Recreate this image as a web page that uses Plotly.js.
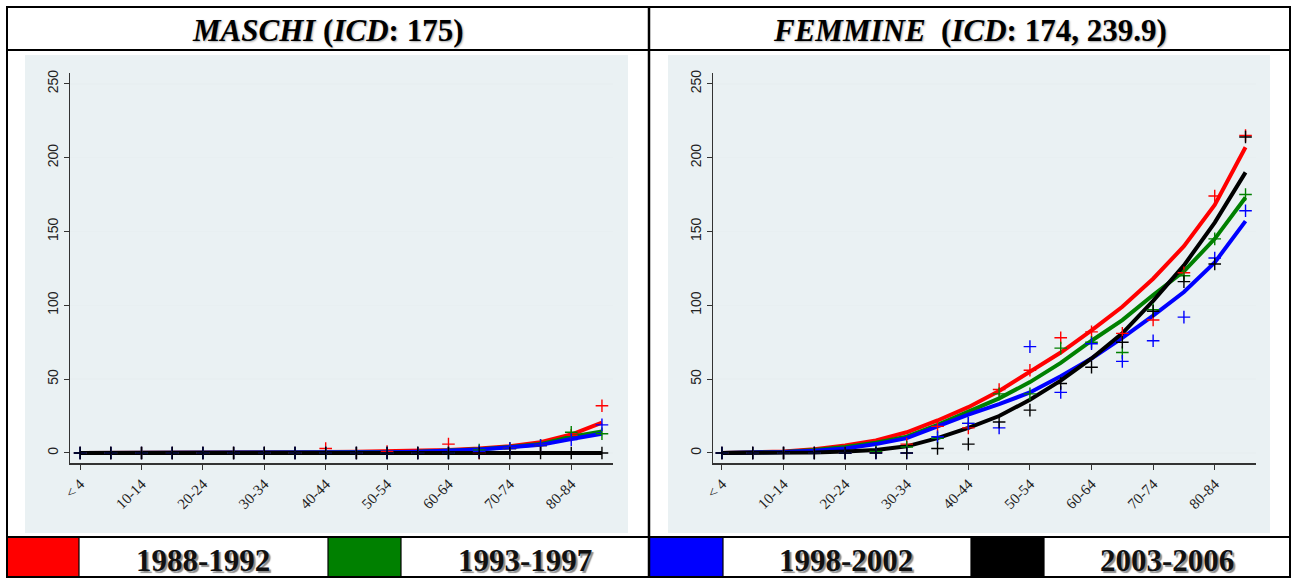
<!DOCTYPE html>
<html>
<head>
<meta charset="utf-8">
<script src="https://cdn.plot.ly/plotly-3.0.1.min.js"></script>
<style>
html,body{margin:0;padding:0;background:#fff;}
#chart{width:1294px;height:578px;}
</style>
</head>
<body>
<div id="chart"></div>
<script>
// ---- data ----
const categories = ["< 4","5-9","10-14","15-19","20-24","25-29","30-34","35-39","40-44","45-49","50-54","55-59","60-64","65-69","70-74","75-79","80-84","85+"];
const tickLabels = ["< 4","10-14","20-24","30-34","40-44","50-54","60-64","70-74","80-84"];
const periods = ["1988-1992","1993-1997","1998-2002","2003-2006"];
const yTicks = [0,50,100,150,200,250];

// MASCHI: fitted curves
const mFit1988 = [0,0,0,0,0,0,0.2,0.4,0.6,0.8,1,1.3,2,3,4.6,7.3,12.5,20.5];
const mFit1993 = [0,0,0,0,0,0,0,0.1,0.2,0.4,0.6,0.9,1.5,2.5,4,6,11,14.5];
const mFit1998 = [0,0,0,0,0,0,0,0.1,0.2,0.3,0.5,0.8,1.3,2.3,3.8,5.5,9.5,13];
const mFit2003 = [0,0,0,0,0,0,0,0,0,0,0,0,0,0,0,0,0,0];
// MASCHI: observed rates
const mObs1988 = [0,0,0,0,0,0,0,0,3,0,1,0,6,0,3,5,12,32];
const mObs1993 = [0,0,0,0,0,0,0,0,0,0,0,0,0,2,3,5,14,13];
const mObs1998 = [0,0,0,0,0,0,0,0,0,0,0,0,0,1,3,5,9,19];
const mObs2003 = [0,0,0,0,0,0,0,0,0,0,0,0,0,0,0,0,0,0];

// FEMMINE: fitted curves
const fFit1988 = [0,0.3,1,2.5,5,8.5,14,22,31,42,55,68,83,99,118,140,168,207];
const fFit1993 = [0,0.2,0.7,2,4,7,11,19,28,37,48,61,76,90,107,123,145,173];
const fFit1998 = [0,0.1,0.6,1.5,3,6,10,18,26,33,41,52,64,78,93,109,129,157];
const fFit2003 = [0,0,0.1,0.3,1,2,4.5,10,17,25,36,49,64,81,103,127,156,190];
// FEMMINE: observed rates
const fObs1988 = [0,0,0,0,0,0.5,6,18,17,43,56,78,82,81,90,122,174,215];
const fObs1993 = [0,0,0,0,0,1,4,10,20,40,40,71,75,68,97,120,145,175];
const fObs1998 = [0,0,0,0,0,0,0,11,20,17,72,41,74,62,76,92,132,164];
const fObs2003 = [0,0,0,0,0,0,0,3,6,21,29,47,58,75,96,116,128,214];

const colors = ["#ff0000","#008000","#0000ff","#000000"];

// ---- traces ----
const W = 1294, H = 578;
function px(x){return x/W;}
function py(y){return 1 - y/H;}

const traces = [];
function addPanel(fits, obs, xa, ya){
  fits.forEach((f,i)=>{
    traces.push({x:categories, y:f, type:"scatter", mode:"lines", xaxis:xa, yaxis:ya,
      line:{color:colors[i], width:4}, hoverinfo:"skip", showlegend:false});
  });
  obs.forEach((o,i)=>{
    traces.push({x:categories, y:o, type:"scatter", mode:"markers", xaxis:xa, yaxis:ya,
      marker:{symbol:"cross-thin", size:9, line:{color:colors[i], width:1.4}, color:colors[i]},
      hoverinfo:"skip", showlegend:false});
  });
}
addPanel([mFit1988,mFit1993,mFit1998,mFit2003],[mObs1988,mObs1993,mObs1998,mObs2003],"x","y");
addPanel([fFit1988,fFit1993,fFit1998,fFit2003],[fObs1988,fObs1993,fObs1998,fObs2003],"x2","y2");

const yDom = [py(463), py(73)];
const yRange = [-6.8, 257.3];
function xAxis(dom, rng){
  return {domain:dom, type:"category", categoryorder:"array", categoryarray:categories,
    range:rng, tickmode:"array", tickvals:tickLabels, ticktext:tickLabels,
    tickangle:-45, ticks:"outside", ticklen:5, tickcolor:"#333", tickwidth:1,
    showline:true, linecolor:"#333", linewidth:1.5, showgrid:false, zeroline:false,
    tickfont:{family:"Liberation Serif, serif", size:15, color:"#222"}, fixedrange:true};
}
function yAxis(anchor){
  return {domain:yDom, anchor:anchor, range:yRange, tickmode:"array", tickvals:yTicks,
    tickangle:-90, ticks:"outside", ticklen:5, tickcolor:"#333", tickwidth:1,
    showline:true, linecolor:"#333", linewidth:1.5, showgrid:true, gridcolor:"#e8eff1", gridwidth:1.5,
    zeroline:false, tickfont:{family:"Liberation Sans, Arial, sans-serif", size:14, color:"#222"}, fixedrange:true};
}

const shapes = [];
// panel backgrounds
[[25,628],[668,1270]].forEach(b=>{
  shapes.push({type:"rect", xref:"paper", yref:"paper", x0:px(b[0]), x1:px(b[1]), y0:py(533), y1:py(55),
    fillcolor:"#eaf1f3", line:{width:0}, layer:"below"});
});
// legend colour boxes
const boxes = [[7,79],[328,401],[650,723],[971,1044]];
boxes.forEach((b,i)=>{
  shapes.push({type:"rect", xref:"paper", yref:"paper", x0:px(b[0]), x1:px(b[1]), y0:py(578), y1:py(538),
    fillcolor:colors[i], line:{width:0}, layer:"above"});
});
// frame lines
function hline(y,x0,x1,w){shapes.push({type:"line",xref:"paper",yref:"paper",x0:px(x0),x1:px(x1),y0:py(y),y1:py(y),line:{color:"#000",width:w},layer:"above"});}
function vline(x,y0,y1,w){shapes.push({type:"line",xref:"paper",yref:"paper",x0:px(x),x1:px(x),y0:py(y0),y1:py(y1),line:{color:"#000",width:w},layer:"above"});}
hline(7,6,1291,2);
hline(50,6,1291,2);
hline(537,6,1291,2);
hline(577,6,1291,2);
vline(7,6,578,2);
vline(649,6,578,2.5);
vline(1290,6,578,2);
vline(79,538,578,1.2);
vline(328,538,578,1.2);
vline(401,538,578,1.2);
vline(723,538,578,1.2);
vline(971,538,578,1.2);
vline(1044,538,578,1.2);

const annotations = [];
annotations.push({xref:"paper", yref:"paper", x:px(327), y:py(30), xanchor:"center", yanchor:"middle", showarrow:false,
  text:"<b><i>MASCHI</i> (<i>ICD</i>: 175)</b>",
  font:{family:"Liberation Serif, serif", size:31, color:"#000", shadow:"1px 1px 2px rgba(0,0,0,0.35)"}});
annotations.push({xref:"paper", yref:"paper", x:px(970), y:py(30), xanchor:"center", yanchor:"middle", showarrow:false,
  text:"<b><i>FEMMINE</i>\u00a0 (<i>ICD</i>: 174, 239.9)</b>",
  font:{family:"Liberation Serif, serif", size:31, color:"#000", shadow:"1px 1px 2px rgba(0,0,0,0.35)"}});
const legX = [203,525,846,1167];
periods.forEach((p,i)=>{
  annotations.push({xref:"paper", yref:"paper", x:px(legX[i]), y:py(560), xanchor:"center", yanchor:"middle", showarrow:false,
    text:"<b>"+p+"</b>",
    font:{family:"Liberation Serif, serif", size:31, color:"#111", shadow:"2px 2px 1px rgba(0,0,0,0.45)"}});
});

const layout = {
  width:W, height:H, margin:{l:0,r:0,t:0,b:0}, paper_bgcolor:"#ffffff", plot_bgcolor:"#ffffff",
  showlegend:false,
  xaxis: xAxis([px(70),px(613)], [-0.33,17.36]),
  yaxis: yAxis("x"),
  xaxis2: Object.assign(xAxis([px(713),px(1256)], [-0.29,17.34]), {anchor:"y2"}),
  yaxis2: yAxis("x2"),
  shapes: shapes, annotations: annotations
};
layout.xaxis.anchor = "y";

Plotly.newPlot("chart", traces, layout, {displayModeBar:false, staticPlot:true});
</script>
</body>
</html>
